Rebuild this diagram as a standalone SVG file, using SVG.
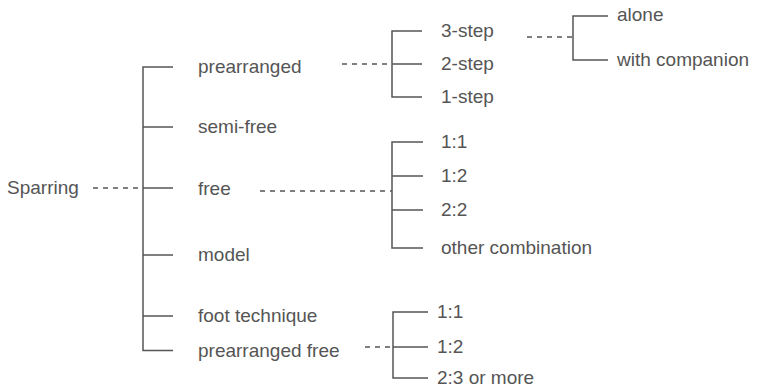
<svg xmlns="http://www.w3.org/2000/svg" width="762" height="388" viewBox="0 0 762 388">
<style>
text{font-family:"Liberation Sans",Arial,sans-serif;font-size:19px;fill:#555}
.s{stroke:#555;stroke-width:1.5;fill:none}
.d{stroke:#555;stroke-width:1.3;fill:none;stroke-dasharray:5 5}
</style>
<rect width="762" height="388" fill="#fff"/>
<g id="connectors">
<path class="d" d="M93 188H143"/>
<path class="s" d="M173 67H143V350.5H173M143 127H173M143 188H173M143 255H173M143 316H173"/>
<path class="d" d="M342 64H392"/>
<path class="s" d="M422 31H392V97H422M392 64H422"/>
<path class="d" d="M527 37H573"/>
<path class="s" d="M608 16H573V60H608"/>
<path class="d" d="M260 191H392"/>
<path class="s" d="M423 142H392V248H423M392 176H423M392 210H423"/>
<path class="d" d="M365 347H393"/>
<path class="s" d="M428 312H393V378H428M393 347H428"/>
</g>
<g id="sparring"><text x="7" y="194">Sparring</text></g>
<g id="prearranged"><text x="198" y="73">prearranged</text></g>
<g id="semi-free"><text x="198" y="133">semi-free</text></g>
<g id="free"><text x="198" y="195">free</text></g>
<g id="model"><text x="198" y="261">model</text></g>
<g id="foot-technique"><text x="198" y="322">foot technique</text></g>
<g id="prearranged-free"><text x="198" y="357">prearranged free</text></g>
<g id="step3"><text x="441" y="37">3-step</text></g>
<g id="step2"><text x="441" y="70">2-step</text></g>
<g id="step1"><text x="441" y="103">1-step</text></g>
<g id="alone"><text x="617" y="21">alone</text></g>
<g id="with-companion"><text x="617" y="66">with companion</text></g>
<g id="free-1-1"><text x="441" y="148">1:1</text></g>
<g id="free-1-2"><text x="441" y="182">1:2</text></g>
<g id="free-2-2"><text x="441" y="216">2:2</text></g>
<g id="free-other"><text x="441" y="254">other combination</text></g>
<g id="pf-1-1"><text x="437" y="318">1:1</text></g>
<g id="pf-1-2"><text x="437" y="353">1:2</text></g>
<g id="pf-2-3"><text x="437" y="384">2:3 or more</text></g>
</svg>
